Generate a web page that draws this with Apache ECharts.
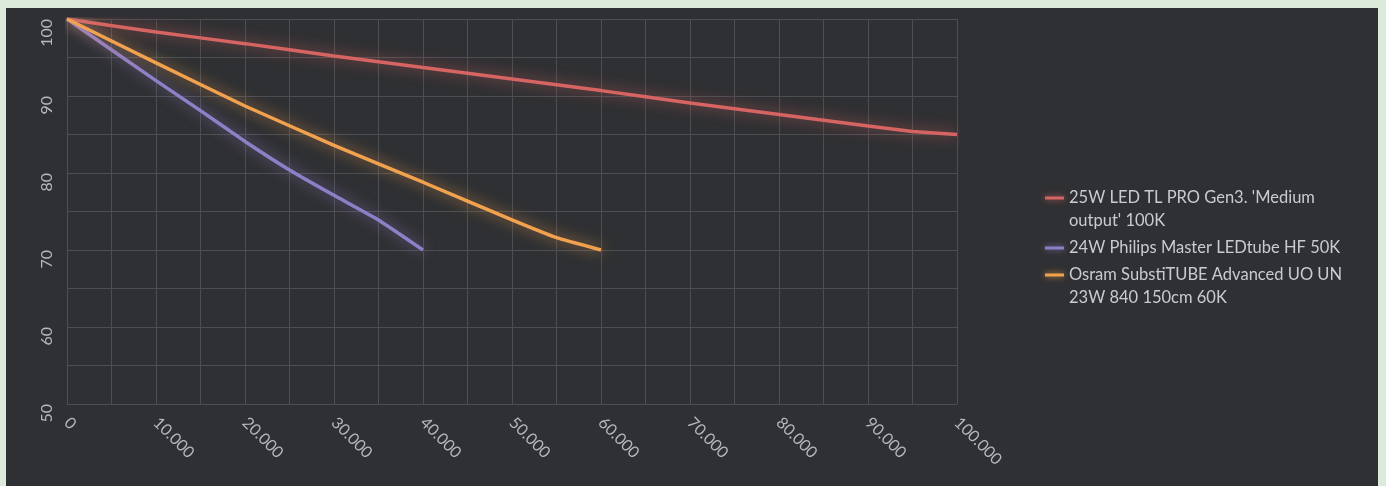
<!DOCTYPE html>
<html>
<head>
<meta charset="utf-8">
<script src="https://cdn.jsdelivr.net/npm/echarts@6/dist/echarts.min.js"></script>
<style>
  html, body { margin: 0; padding: 0; background: #dbeadb; }
  #chart { position: absolute; left: 6px; top: 8px; width: 1372px; height: 478px; }
</style>
</head>
<body>
<div id="chart"></div>
<script>
// lumen maintenance (%) against burning hours
var seriesNames = [
  "25W LED TL PRO Gen3. 'Medium output' 100K",
  '24W Philips Master LEDtube HF 50K',
  'Osram SubstiTUBE Advanced UO UN 23W 840 150cm 60K'
]
var legendLabels = [
  "25W LED TL PRO Gen3. 'Medium\noutput' 100K",
  '24W Philips Master LEDtube HF 50K',
  'Osram SubstiTUBE Advanced UO UN\n23W 840 150cm 60K'
]
var redHours = [0, 10000, 20000, 30000, 40000, 50000, 60000, 70000, 80000, 90000, 95000, 100000]
var redValues = [100, 98.3, 96.8, 95.2, 93.7, 92.2, 90.7, 89.1, 87.6, 86.1, 85.4, 85.0]
var purpleHours = [0, 10000, 15000, 20000, 25000, 30000, 35000, 40000]
var purpleValues = [100, 92.0, 88.1, 84.1, 80.4, 77.1, 73.9, 70.0]
var orangeHours = [0, 10000, 20000, 30000, 40000, 50000, 55000, 60000]
var orangeValues = [100, 94.3, 88.7, 83.6, 78.8, 73.9, 71.6, 70.0]
var colors = ['#d66462', '#8f7fc7', '#f2a24e']
var glows = ['rgba(214,100,98,0.8)', 'rgba(143,127,199,0.8)', 'rgba(242,162,78,0.8)']

function pairs(xs, ys) {
  return xs.map(function (x, i) { return [x, ys[i]] })
}

var font = 'Lato, "Open Sans", sans-serif'
var chart = echarts.init(document.getElementById('chart'))

// one legend per item; a leading blank line keeps the icon on the first text line
var legendIconY = [190, 240, 267]
var legends = seriesNames.map(function (name, i) {
  var twoLines = legendLabels[i].indexOf('\n') >= 0
  return {
    data: [name],
    left: 1039,
    top: legendIconY[i] - (twoLines ? 34.5 : 11.5),
    padding: 0,
    icon: 'rect',
    itemWidth: 19,
    itemHeight: 3,
    itemStyle: { color: colors[i], shadowBlur: 6, shadowColor: glows[i] },
    formatter: function () { return (twoLines ? '\n' : '') + legendLabels[i] },
    textStyle: {
      color: '#c8ccd0',
      fontFamily: font,
      fontSize: 16.5,
      lineHeight: 23
    },
    selectedMode: false
  }
})

var data = [pairs(redHours, redValues), pairs(purpleHours, purpleValues), pairs(orangeHours, orangeValues)]

chart.setOption({
  backgroundColor: '#2f3033',
  animation: false,
  grid: { left: 61, top: 11, right: 421, bottom: 82 },
  legend: legends,
  xAxis: {
    type: 'value',
    min: 0,
    max: 100000,
    interval: 5000,
    axisLine: { show: true, lineStyle: { color: '#4c4e52', width: 1 } },
    axisTick: { show: false },
    splitLine: { lineStyle: { color: '#4c4e52', width: 1 } },
    axisLabel: {
      rotate: -45,
      margin: 16,
      color: '#b4b9be',
      fontFamily: font,
      fontSize: 16,
      showMaxLabel: true,
      formatter: function (v) {
        if (v % 10000 !== 0) return ''
        return v === 0 ? '0' : (v / 1000) + '.000'
      }
    }
  },
  yAxis: {
    type: 'value',
    min: 50,
    max: 100,
    interval: 5,
    axisLine: { show: true, lineStyle: { color: '#4c4e52', width: 1 } },
    axisTick: { show: false },
    splitLine: { lineStyle: { color: '#4c4e52', width: 1 } },
    axisLabel: {
      rotate: 90,
      margin: 20,
      align: 'right',
      verticalAlign: 'middle',
      color: '#b4b9be',
      fontFamily: font,
      fontSize: 16,
      formatter: function (v) { return v % 10 === 0 ? String(v) : '' }
    }
  },
  series: seriesNames.map(function (name, i) {
    return {
      name: name,
      type: 'line',
      data: data[i],
      smooth: 0.12,
      symbol: 'none',
      lineStyle: { color: colors[i], width: 3.5, shadowBlur: 14, shadowColor: glows[i] },
      itemStyle: { color: colors[i] }
    }
  })
})
</script>
</body>
</html>
